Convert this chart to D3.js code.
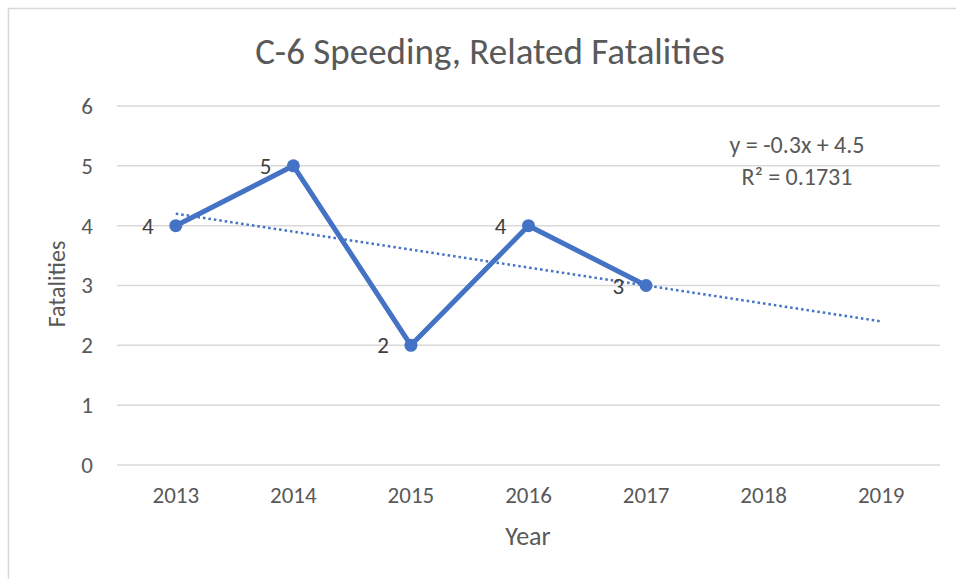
<!DOCTYPE html>
<html>
<head>
<meta charset="utf-8">
<script src="https://cdn.jsdelivr.net/npm/d3@7"></script>
<style>
  body { margin: 0; background: #fff; }
  svg text { font-family: Carlito, Calibri, "Open Sans", sans-serif; }
</style>
</head>
<body>
<svg id="chart"></svg>
<script>
// chart data
const years = ["2013", "2014", "2015", "2016", "2017", "2018", "2019"];
const fatalityYears = ["2013", "2014", "2015", "2016", "2017"];
const fatalities = [4, 5, 2, 4, 3];
const yTicks = [0, 1, 2, 3, 4, 5, 6];
// linear trend from Excel: y = -0.3x + 4.5 (x = 1..7)
const trendSlope = -0.3;
const trendIntercept = 4.5;
const trendLabel = ["y = -0.3x + 4.5", "R² = 0.1731"];

const W = 956, H = 579;
const margin = { top: 106, right: 16, bottom: 114, left: 117 };
const width = W - margin.left - margin.right,
  height = H - margin.top - margin.bottom;

const svgRoot = d3.select("#chart").attr("width", W).attr("height", H);

// chart area border
svgRoot.append("rect")
  .attr("x", 8.5).attr("y", 8.5)
  .attr("width", W).attr("height", H)
  .attr("fill", "none")
  .attr("stroke", "#d9d9d9")
  .attr("stroke-width", 1.5);

svgRoot.append("text")
  .attr("x", 490)
  .attr("y", 64)
  .attr("text-anchor", "middle")
  .style("font-size", "37px")
  .style("fill", "#595959")
  .text("C-6 Speeding, Related Fatalities");

const svg = svgRoot.append("g")
  .attr("transform", `translate(${margin.left},${margin.top})`);

const x = d3.scaleBand()
  .domain(years)
  .range([0, width]);

const y = d3.scaleLinear()
  .domain([0, 6])
  .range([height, 0]);

// gridlines
svg.append("g")
  .selectAll("line")
  .data(yTicks)
  .enter()
  .append("line")
  .attr("x1", 0)
  .attr("x2", width)
  .attr("y1", d => y(d))
  .attr("y2", d => y(d))
  .attr("stroke", "#d9d9d9")
  .attr("stroke-width", 1.5);

// y axis labels
const yAxis = svg.append("g")
  .call(d3.axisLeft(y).tickValues(yTicks).tickSize(0).tickPadding(24).tickFormat(d3.format("d")));
yAxis.select(".domain").remove();
yAxis.selectAll("text")
  .style("font-size", "23px")
  .style("fill", "#595959")
  .style("font-family", null);

// x axis labels
const xAxis = svg.append("g")
  .attr("transform", `translate(0,${height})`)
  .call(d3.axisBottom(x).tickSize(0).tickPadding(22));
xAxis.select(".domain").remove();
xAxis.selectAll("text")
  .style("font-size", "23px")
  .style("fill", "#595959")
  .style("font-family", null);

svgRoot.append("text")
  .attr("x", 528)
  .attr("y", 545)
  .attr("text-anchor", "middle")
  .style("font-size", "26px")
  .style("fill", "#595959")
  .text("Year");

svgRoot.append("text")
  .attr("transform", "translate(65,284) rotate(-90)")
  .attr("text-anchor", "middle")
  .style("font-size", "24px")
  .style("fill", "#595959")
  .text("Fatalities");

const cx = d => x(d) + x.bandwidth() / 2;

// trendline
const trendPts = years.map((yr, i) => [cx(yr), y(trendSlope * (i + 1) + trendIntercept)]);
svg.append("path")
  .datum([trendPts[0], trendPts[trendPts.length - 1]])
  .attr("d", d3.line())
  .attr("fill", "none")
  .attr("stroke", "#4472c4")
  .attr("stroke-width", 2.5)
  .attr("stroke-dasharray", "2.5,3");

// data line
const pts = fatalityYears.map((yr, i) => ({ year: yr, value: fatalities[i] }));
svg.append("path")
  .datum(pts)
  .attr("d", d3.line().x(d => cx(d.year)).y(d => y(d.value)))
  .attr("fill", "none")
  .attr("stroke", "#4472c4")
  .attr("stroke-width", 5)
  .attr("stroke-linejoin", "round");

svg.selectAll("circle")
  .data(pts)
  .enter()
  .append("circle")
  .attr("cx", d => cx(d.year))
  .attr("cy", d => y(d.value))
  .attr("r", 6.5)
  .attr("fill", "#4472c4");

// data labels
svg.selectAll(".dlabel")
  .data(pts)
  .enter()
  .append("text")
  .attr("class", "dlabel")
  .attr("x", d => cx(d.year) - 22)
  .attr("y", d => y(d.value) + 8)
  .attr("text-anchor", "end")
  .style("font-size", "23px")
  .style("fill", "#404040")
  .text(d => d.value);

// trend equation
svgRoot.selectAll(".eq")
  .data(trendLabel)
  .enter()
  .append("text")
  .attr("class", "eq")
  .attr("x", 797)
  .attr("y", (d, i) => 153 + i * 32)
  .attr("text-anchor", "middle")
  .style("font-size", "24px")
  .style("fill", "#595959")
  .text(d => d);
</script>
</body>
</html>
